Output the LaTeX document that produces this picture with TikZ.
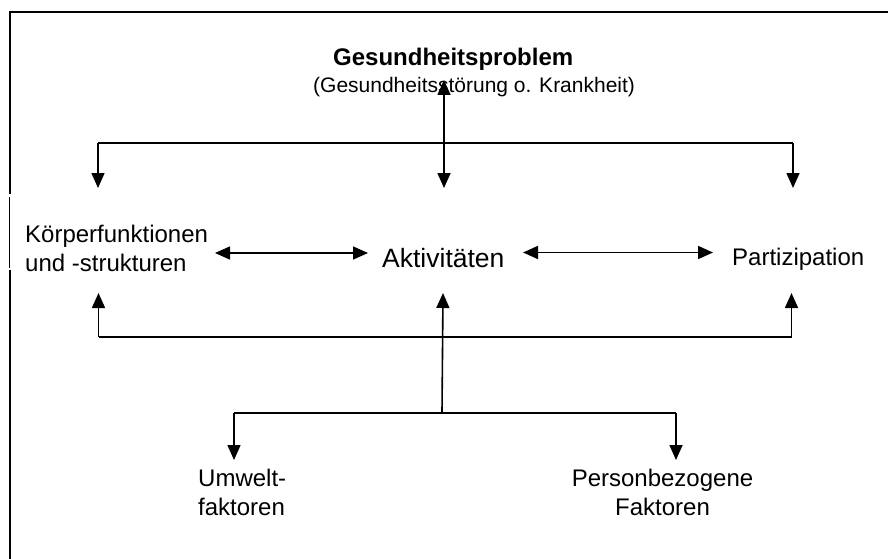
\documentclass[tikz,border=0pt]{standalone}
\usepackage{fontspec}
\setmainfont{Liberation Sans}
\usetikzlibrary{arrows.meta}
\tikzset{
  lbl/.style={inner sep=0pt, anchor=base west, font=\fontsize{24}{29}\selectfont},
  lblc/.style={inner sep=0pt, anchor=base, font=\fontsize{24}{29}\selectfont},
  conn/.style={line width=1.6pt},
  tip/.style={conn, -{Triangle[length=15pt,width=13pt]}},
  dtip/.style={conn, {Triangle[length=15pt,width=13pt]}-{Triangle[length=15pt,width=13pt]}},
  frame/.style={line width=1.4pt}
}
\begin{document}
\begin{tikzpicture}[x=1pt,y=-1pt]
\useasboundingbox (0,0) rectangle (888,559);
% frame (top and left only)
\draw[frame] (888,12) -- (10,12) -- (10,194);
\draw[frame] (9.5,197) -- (9.5,268);
\draw[frame] (10,270) -- (10,559);
% texts
\node[lbl, font=\fontsize{24}{29}\selectfont\bfseries] (gp) at (333,66) {Gesundheitsproblem};
\node[lbl, font=\fontsize{21}{26}\selectfont] (gs) at (313,93) {(Gesundheitsstörung o. Krankheit)};
\node[lbl] (k1) at (25,242) {Körperfunktionen};
\node[lbl] (k2) at (25,271) {und -strukturen};
\node[lbl, font=\fontsize{26.5}{31}\selectfont] (akt) at (382,267) {Aktivitäten};
\node[lbl] (part) at (732,265) {Partizipation};
\node[lbl] (u1) at (198,486) {Umwelt-};
\node[lbl] (u2) at (198,515) {faktoren};
\node[lblc] (p1) at (662.5,486) {Personbezogene};
\node[lblc] (p2) at (662.5,515) {Faktoren};
% junction coordinates
\coordinate (gpTip) at (444,80);
\coordinate (aktTop) at (444,188);
\coordinate (hL) at (98,143);
\coordinate (hR) at (793,143);
\coordinate (kTop) at (98,188);
\coordinate (pTop) at (793,188);
\coordinate (kR) at (215,253);
\coordinate (aL) at (368,253);
\coordinate (aR) at (523,252.5);
\coordinate (pL) at (713,252.5);
\coordinate (kBot) at (98.5,293);
\coordinate (pBot) at (791.5,293);
\coordinate (bL) at (98.5,337);
\coordinate (bR) at (791.5,337);
\coordinate (aBot) at (443,293);
\coordinate (fJ) at (442,412);
\coordinate (fL) at (234,413);
\coordinate (fR) at (676,413);
\coordinate (uTop) at (234,460);
\coordinate (pbTop) at (676,460);
% connectors
\draw[dtip] (gpTip) -- (aktTop);
\draw[conn] (hL) -- (hR);
\draw[tip] (hL) -- (kTop);
\draw[tip] (hR) -- (pTop);
\draw[dtip] (kR) -- (aL);
\draw[dtip] (aR) -- (pL);
\draw[conn] (bL) -- (bR);
\draw[tip] (bL) -- (kBot);
\draw[tip] (bR) -- (pBot);
\draw[tip] (fJ) -- (aBot);
\draw[conn] (fL) -- (fR);
\draw[tip] (fL) -- (uTop);
\draw[tip] (fR) -- (pbTop);
\end{tikzpicture}
\end{document}
